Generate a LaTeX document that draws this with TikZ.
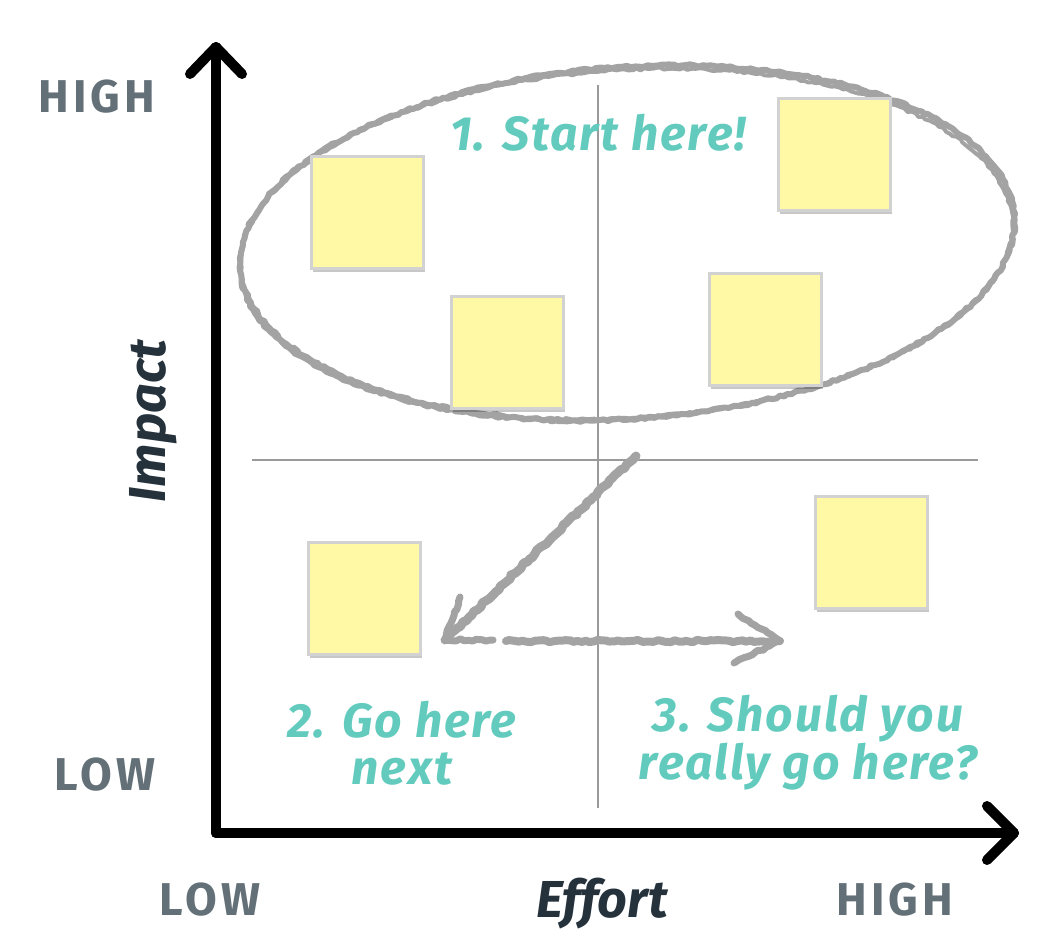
\documentclass[tikz,border=0pt]{standalone}
\usepackage{fontspec}
\setmainfont{Fira Sans}
\usetikzlibrary{shadows,decorations.pathmorphing,arrows.meta}
\definecolor{teal}{HTML}{62CBBE}
\definecolor{axislbl}{HTML}{647078}
\definecolor{dark}{HTML}{25323C}
\definecolor{note}{HTML}{FFF9A6}
\definecolor{noteedge}{HTML}{D2D2D2}
\definecolor{quad}{HTML}{9A9A9A}
\definecolor{sketch}{HTML}{A3A3A3}
\tikzset{
  sticky/.style={rectangle, fill=note, draw=noteedge, line width=3pt,
    minimum width=112pt, minimum height=112pt, inner sep=0pt,
    drop shadow={shadow xshift=2pt, shadow yshift=-4pt, fill=black, opacity=0.22}},
  axis/.style={line width=10pt, line cap=round, line join=round, black},
  quadline/.style={line width=1.8pt, quad},
  rough/.style={draw=sketch, line cap=round, line join=round,
    decorate, decoration={random steps, segment length=4pt, amplitude=1.2pt}},
  lvl/.style={text=axislbl, font=\fontsize{46}{46}\selectfont\bfseries\addfontfeature{LetterSpace=9}},
  axname/.style={text=dark, font=\fontsize{52}{52}\selectfont\bfseries\itshape},
  hint/.style={text=teal, align=center, font=\fontsize{48}{47}\selectfont\bfseries\itshape\addfontfeature{LetterSpace=4}}
}
\begin{document}
\begin{tikzpicture}[x=1pt,y=-1pt]
\useasboundingbox (0,0) rectangle (1062,948);
% quadrant lines
\coordinate (vtop) at (598,85);
\coordinate (vbot) at (598,808);
\coordinate (hleft) at (252,460);
\coordinate (hright) at (978,460);
\draw[quadline] (vtop) -- (vbot);
\draw[quadline] (hleft) -- (hright);
% ellipse
\draw[rough, line width=6pt, rotate around={4:(627,243)}] (627,243) ellipse [x radius=388, y radius=176];
\draw[rough, line width=4pt, rotate around={3.5:(627,244)}] (627,244) ellipse [x radius=386, y radius=174];
% sticky notes
\node[sticky] (n1) at (367,212) {};
\node[sticky] (n2) at (834,154) {};
\node[sticky] (n3) at (507,352) {};
\node[sticky] (n4) at (765,329) {};
\node[sticky] (n5) at (364,598) {};
\node[sticky] (n6) at (871,552) {};
% sketched arrows
\coordinate (a1s) at (636,456);
\coordinate (a1e) at (445,640);
\coordinate (a1l) at (460,597);
\coordinate (a1r) at (493,640);
\coordinate (a2s) at (506,641);
\coordinate (a2e) at (780,641);
\coordinate (a2u) at (738,614);
\coordinate (a2d) at (734,663);
\draw[rough, line width=9pt] (a1s) -- (a1e);
\draw[rough, line width=7pt] (a1l) -- (a1e) -- (a1r);
\draw[rough, line width=8pt] (a2s) -- (a2e);
\draw[rough, line width=7pt] (a2u) -- (a2e) -- (a2d);
% axes
\coordinate (origin) at (216,833);
\coordinate (ytip) at (216,47);
\coordinate (xtip) at (1014,833);
\draw[axis] (origin) -- (ytip);
\draw[axis] (190,74) -- (ytip) -- (242,74);
\draw[axis] (origin) -- (xtip);
\draw[axis] (987,806) -- (xtip) -- (987,860);
% labels
\node[lvl] (yhigh) at (97,97) {HIGH};
\node[lvl] (ylow) at (105,775) {LOW};
\node[lvl] (xlow) at (210,900) {LOW};
\node[lvl] (xhigh) at (895,900) {HIGH};
\node[axname] (effort) at (602,904) {Effort};
\node[axname, rotate=90] (impact) at (153,421) {Impact};
\node[hint] (t1) at (598,133) {1. Start here!};
\node[hint] (t2) at (402,743) {2. Go here\\next};
\node[hint] (t3) at (808,743) {3. Should you\\really go here?};
\end{tikzpicture}
\end{document}
